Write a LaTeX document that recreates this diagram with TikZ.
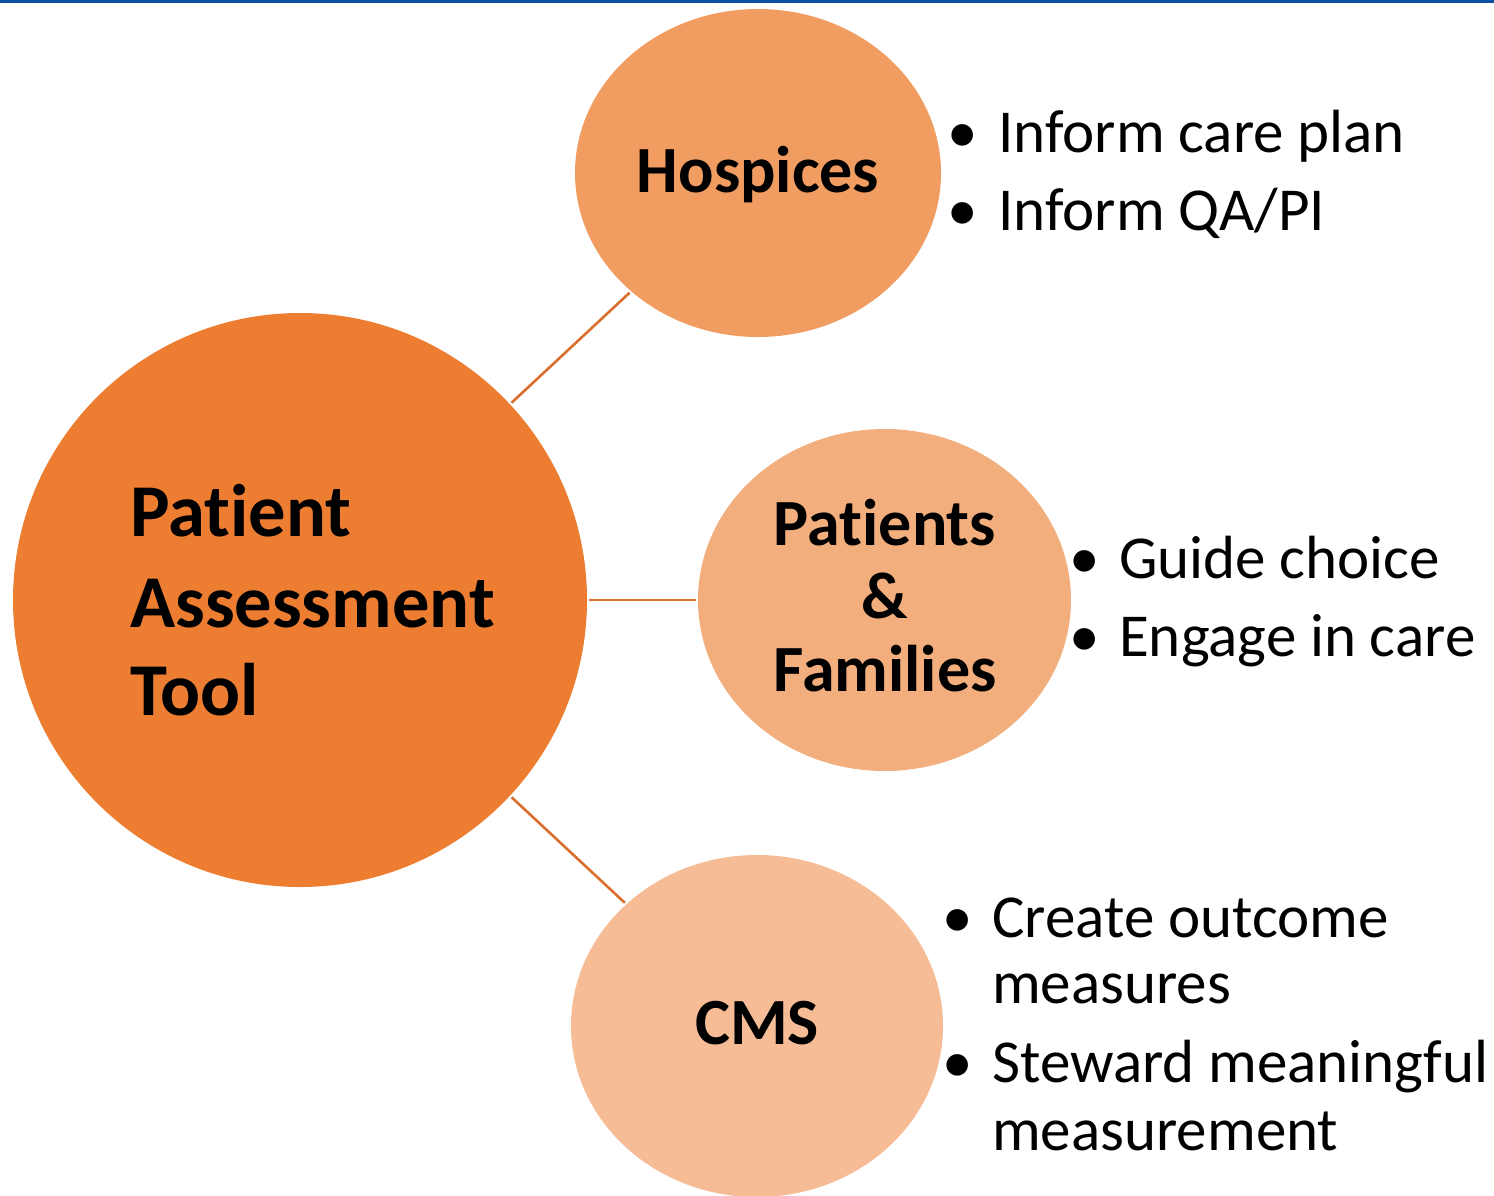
\documentclass[tikz,border=0pt]{standalone}
\usepackage{fontspec}
\setmainfont{Carlito}[Ligatures={NoCommon,NoContextual}]
\usetikzlibrary{shapes.geometric}

\definecolor{coreorange}{HTML}{ED7D31}
\definecolor{hospfill}{HTML}{F19D62}
\definecolor{famfill}{HTML}{F3AE7D}
\definecolor{cmsfill}{HTML}{F5BC96}
\definecolor{linkline}{HTML}{D96E2D}
\definecolor{topbar}{HTML}{0B4FA0}

\tikzset{
  hub/.style={circle, fill=coreorange, minimum size=574pt, inner sep=0pt},
  satellite/.style={ellipse, inner sep=0pt},
  link/.style={draw=linkline, line width=2.6pt, shorten <=2pt, shorten >=2pt},
  hubtext/.style={anchor=base west, inner sep=0pt, font=\fontsize{74.5}{88}\selectfont\bfseries},
  sattext/.style={anchor=base, inner sep=0pt, font=\fontsize{66}{78}\selectfont\bfseries},
  itemtext/.style={anchor=base west, inner sep=0pt, font=\fontsize{61}{73}\selectfont},
  bulletmark/.style={anchor=base, inner sep=0pt, font=\fontsize{61}{73}\selectfont},
}

\begin{document}
\begin{tikzpicture}[x=1pt, y=-1pt]
\useasboundingbox (0,0) rectangle (1494,1195);

% thin rule along the top edge
\fill[topbar] (0,0) rectangle (1494,2.5);

% circles
\node[hub] (tool) at (300,600) {};
\node[satellite, fill=hospfill, minimum width=366pt, minimum height=328pt] (hosp) at (758,173) {};
\node[satellite, fill=famfill, minimum width=373pt, minimum height=342pt] (fam) at (884.5,600) {};
\node[satellite, fill=cmsfill, minimum width=372pt, minimum height=342pt] (cms) at (757,1026) {};

% connectors
\draw[link] (tool) -- (hosp);
\draw[link] (tool) -- (fam);
\draw[link] (tool) -- (cms);

% labels inside the circles
\node[hubtext] (t1) at (130,536) {Patient};
\node[hubtext] (t2) at (130,627) {Assessment};
\node[hubtext] (t3) at (130,715) {Tool};

\node[sattext] (h1) at (758,192) {Hospices};

\node[sattext] (f1) at (885,545) {Patients};
\node[sattext] (f2) at (885,618) {\&};
\node[sattext] (f3) at (885,691) {Families};

\node[sattext] (c1) at (757,1044) {CMS};

% bullet lists
\node[bulletmark] (hb1) at (963,152) {•};
\node[itemtext] (hi1) at (998,152) {Inform care plan};
\node[bulletmark] (hb2) at (963,230) {•};
\node[itemtext] (hi2) at (998,230) {Inform QA/PI};

\node[bulletmark] (fb1) at (1085,578) {•};
\node[itemtext] (fi1) at (1119,578) {Guide choice};
\node[bulletmark] (fb2) at (1085,656) {•};
\node[itemtext] (fi2) at (1119,656) {Engage in care};

\node[bulletmark] (cb1) at (958,937) {•};
\node[itemtext] (ci1) at (992,937) {Create outcome};
\node[itemtext] (ci1b) at (992,1003) {measures};
\node[bulletmark] (cb2) at (958,1082) {•};
\node[itemtext] (ci2) at (992,1082) {Steward meaningful};
\node[itemtext] (ci2b) at (992,1150) {measurement};
\end{tikzpicture}
\end{document}
